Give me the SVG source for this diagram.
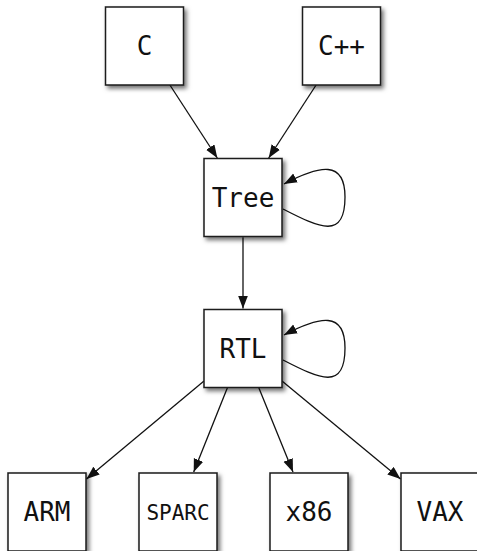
<svg xmlns="http://www.w3.org/2000/svg" width="477" height="551" viewBox="0 0 477 551">
<style>
.box{fill:#fff;stroke:#1a1a1a;stroke-width:1.5;filter:url(#sh)}
.lbl{font-family:"DejaVu Sans Mono","Liberation Mono",monospace;font-size:26px;fill:#111;text-anchor:middle}
.sm{font-size:21px}
.edge{fill:none;stroke:#111;stroke-width:1.3;marker-end:url(#arr)}
</style>
<defs>
<filter id="sh" x="-20%" y="-20%" width="150%" height="150%">
<feDropShadow dx="2.5" dy="3" stdDeviation="2.2" flood-color="#000" flood-opacity="0.55"/>
</filter>
<marker id="arr" markerUnits="userSpaceOnUse" markerWidth="14" markerHeight="11" refX="13" refY="5" orient="auto">
<path d="M0,0 L13,5 L0,10 z" fill="#111"/>
</marker>
</defs>
<g id="connectors">
<path class="edge" d="M169.9,85 L217.3,158"/>
<path class="edge" d="M316.1,85 L268.7,158"/>
<path class="edge" d="M243,237.3 L243,308.5"/>
<path class="edge" d="M283,209 C320,228 345,240 345,197 C345,160 320,165 284,184"/>
<path class="edge" d="M283,360 C320,379 345,391 345,348 C345,311 320,316 284,335"/>
<path class="edge" d="M204,381 L86.5,479"/>
<path class="edge" d="M227.5,387.5 L193.7,472"/>
<path class="edge" d="M258.7,387.5 L293,472"/>
<path class="edge" d="M282,381 L400.5,479"/>
</g>
<g id="C"><rect class="box" x="105.5" y="7" width="78" height="78"/><text class="lbl" x="144.5" y="55">C</text></g>
<g id="Cpp"><rect class="box" x="302.5" y="7" width="78" height="78"/><text class="lbl" x="341.5" y="55">C++</text></g>
<g id="Tree"><rect class="box" x="204" y="158.5" width="78" height="78"/><text class="lbl" x="243" y="206.5">Tree</text></g>
<g id="RTL"><rect class="box" x="204" y="309.5" width="78" height="78"/><text class="lbl" x="243" y="357.5">RTL</text></g>
<g id="ARM"><rect class="box" x="8" y="473" width="78" height="78"/><text class="lbl" x="47" y="521">ARM</text></g>
<g id="SPARC"><rect class="box" x="139" y="473" width="78" height="78"/><text class="lbl sm" x="178" y="519.5">SPARC</text></g>
<g id="x86"><rect class="box" x="270" y="473" width="78" height="78"/><text class="lbl" x="309" y="521">x86</text></g>
<g id="VAX"><rect class="box" x="401" y="473" width="78" height="78"/><text class="lbl" x="440" y="521">VAX</text></g>
</svg>
